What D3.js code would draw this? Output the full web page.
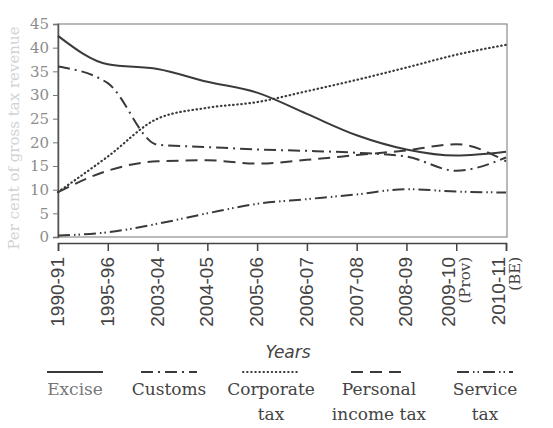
<!DOCTYPE html>
<html>
<head>
<meta charset="utf-8">
<script src="https://cdn.jsdelivr.net/npm/d3@7"></script>
<style>
  body { margin: 0; background: #fff; }
  svg { display: block; }
</style>
</head>
<body>
<svg id="svg"></svg>
<script>
  const years = ["1990-91", "1995-96", "2003-04", "2004-05", "2005-06", "2006-07", "2007-08", "2008-09", "2009-10", "2010-11"];
  const yearNotes = ["", "", "", "", "", "", "", "", "(Prov)", "(BE)"];

  const excise    = [42.5, 36.5, 35.5, 32.8, 30.5, 26, 21.5, 18.5, 17.2, 18];
  const customs   = [36, 32.5, 19.5, 19, 18.5, 18.2, 17.8, 17, 14, 16.8];
  const corporate = [9.5, 17, 25, 27.3, 28.5, 30.8, 33.2, 35.8, 38.5, 40.6];
  const personal  = [9.5, 14, 16, 16.2, 15.5, 16.3, 17.3, 18.3, 19.6, 16];
  const service   = [0.3, 1, 2.8, 5, 7, 8, 9, 10.1, 9.6, 9.4];

  const yTicks = [0, 5, 10, 15, 20, 25, 30, 35, 40, 45];

  const seriesNames = ["Excise", "Customs", "Corporate\ntax", "Personal\nincome tax", "Service\ntax"];
  const seriesValues = [excise, customs, corporate, personal, service];
  const dashes = [null, "12,5,2,5", "0.5,3.6", "12,7", "12,4,1.5,3,1.5,4"];
  const legendX = [75, 169, 271, 379, 485];

  const width = 553, height = 428;
  const svg = d3.select("#svg").attr("width", width).attr("height", height);

  const xScale = d3.scalePoint().domain(years).range([58, 506]);
  const yScale = d3.scaleLinear().domain([0, 45]).range([237, 24]);

  const ink = "#3a3a3a";

  // plot frame
  svg.append("rect")
      .attr("x", 58).attr("y", yScale(45))
      .attr("width", 449).attr("height", yScale(0) - yScale(45))
      .attr("fill", "none").attr("stroke", "#8a8a8a").attr("stroke-width", 1.2);

  // y axis
  const yAxis = svg.append("g")
      .attr("transform", "translate(58,0)")
      .call(d3.axisLeft(yScale).tickValues(yTicks).tickSize(5).tickPadding(4));
  yAxis.select(".domain").attr("stroke", "#555").attr("stroke-width", 1.5);
  yAxis.selectAll(".tick line").attr("stroke", "#777");
  yAxis.selectAll("text")
      .attr("font-family", "DejaVu Serif")
      .attr("font-size", 15)
      .attr("fill", "#8c8c8c");

  svg.append("text")
      .attr("transform", "translate(19,138) rotate(-90)")
      .attr("text-anchor", "middle")
      .attr("font-family", "DejaVu Serif")
      .attr("font-size", 15)
      .attr("fill", "#d2d2d2")
      .text("Per cent of gross tax revenue");

  // x axis
  const xAxis = svg.append("g")
      .attr("transform", "translate(0,243)")
      .call(d3.axisBottom(xScale).tickSize(8).tickFormat(""));
  xAxis.select(".domain").attr("stroke", "#444").attr("stroke-width", 1.5);
  xAxis.selectAll(".tick line").attr("stroke", "#444").attr("stroke-width", 1.5);

  years.forEach(function(y, i) {
    const g = svg.append("g")
        .attr("transform", "translate(" + xScale(y) + ",257) rotate(-90)");
    const note = yearNotes[i];
    g.append("text")
        .attr("x", 0).attr("y", note ? -1 : 6)
        .attr("text-anchor", "end")
        .attr("font-family", "Liberation Sans")
        .attr("font-size", 19)
        .attr("fill", "#444")
        .text(y);
    if (note) {
      g.append("text")
          .attr("x", 0).attr("y", 14)
          .attr("text-anchor", "end")
          .attr("font-family", "DejaVu Serif")
          .attr("font-size", 15)
          .attr("fill", "#444")
          .text(note);
    }
  });

  svg.append("text")
      .attr("x", 288).attr("y", 358)
      .attr("text-anchor", "middle")
      .attr("font-family", "DejaVu Sans")
      .attr("font-style", "italic")
      .attr("font-size", 17)
      .attr("fill", "#444")
      .text("Years");

  // lines
  const line = d3.line()
      .x(function(d, i) { return xScale(years[i]); })
      .y(function(d) { return yScale(d); })
      .curve(d3.curveMonotoneX);

  seriesValues.forEach(function(vals, i) {
    svg.append("path")
        .datum(vals)
        .attr("fill", "none")
        .attr("stroke", ink)
        .attr("stroke-width", i === 2 ? 2.2 : 2)
        .attr("stroke-linecap", i === 2 ? "round" : "butt")
        .attr("stroke-dasharray", dashes[i])
        .attr("d", line);
  });

  // legend
  seriesNames.forEach(function(name, i) {
    const cx = legendX[i];
    svg.append("line")
        .attr("x1", cx - 28).attr("x2", cx + 28)
        .attr("y1", 372).attr("y2", 372)
        .attr("stroke", ink)
        .attr("stroke-width", 2)
        .attr("stroke-linecap", i === 2 ? "round" : "butt")
        .attr("stroke-dasharray", dashes[i]);
    name.split("\n").forEach(function(part, j) {
      svg.append("text")
          .attr("x", cx).attr("y", 395 + j * 25)
          .attr("text-anchor", "middle")
          .attr("font-family", "DejaVu Serif")
          .attr("font-size", 17)
          .attr("fill", i === 0 ? "#777" : "#444")
          .text(part);
    });
  });
</script>
</body>
</html>
